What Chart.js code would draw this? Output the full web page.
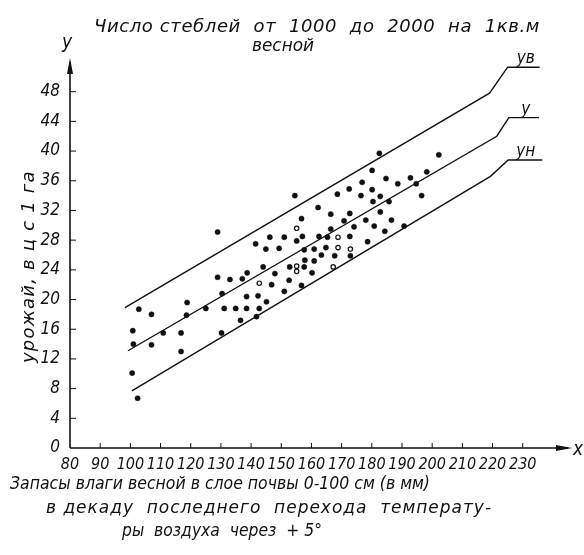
<!DOCTYPE html>
<html>
<head>
<meta charset="utf-8">
<script src="https://cdn.jsdelivr.net/npm/chart.js@4/dist/chart.umd.min.js"></script>
<style>
  body { margin: 0; background: #fff; }
  #wrap { width: 584px; height: 555px; position: relative; }
</style>
</head>
<body>
<div id="wrap"><canvas id="chart"></canvas></div>
<script>
// moisture reserve (mm) vs yield (c/ha), filled dots
const moistureMm = [100.8, 101.0, 100.6, 102.4, 102.8, 107.0, 107.0, 110.9, 116.8, 116.8,
  118.8, 118.6, 125.0, 128.9, 128.9, 130.4, 130.2, 131.1, 133.0, 134.9,
  136.5, 137.1, 138.5, 138.5, 138.7, 141.5, 141.8, 142.3, 142.7, 144.0,
  144.9, 145.1, 146.2, 146.8, 147.9, 149.3, 151.0, 151.0, 152.6, 152.8,
  154.5, 155.1, 156.7, 156.7, 157.0, 157.6, 157.6, 157.8, 160.2, 160.9,
  160.9, 162.2, 162.5, 163.3, 164.8, 165.3, 166.4, 166.4, 167.7, 168.6,
  170.8, 172.5, 172.7, 172.7, 172.9, 174.1, 176.4, 176.8, 178.0, 178.6,
  180.1, 180.1, 180.4, 180.8, 182.5, 182.8, 182.8, 184.3, 184.7, 185.7,
  186.5, 188.6, 190.7, 192.8, 194.7, 196.5, 198.2, 202.2];
const yieldCq = [15.8, 14.0, 10.1, 6.7, 18.7, 18.0, 13.9, 15.5, 15.5, 13.0,
  19.6, 17.9, 18.8, 29.1, 23.0, 20.8, 15.5, 18.8, 22.7, 18.8,
  17.2, 22.8, 20.4, 18.8, 23.6, 27.5, 17.7, 20.5, 18.8, 24.4,
  26.8, 19.7, 28.4, 22.0, 23.5, 26.9, 28.4, 21.1, 22.6, 24.4,
  34.0, 27.9, 30.9, 21.9, 28.5, 26.7, 24.4, 25.3, 23.6, 26.8,
  25.2, 32.4, 28.5, 26.0, 27.0, 28.4, 31.5, 29.5, 25.9, 34.2,
  30.6, 34.9, 31.6, 28.5, 25.9, 29.8, 34.0, 35.8, 30.7, 27.8,
  37.4, 34.8, 33.2, 29.9, 39.7, 33.9, 31.8, 29.2, 36.3, 33.2,
  30.7, 35.6, 29.9, 36.4, 35.6, 34.0, 37.2, 39.5];

// small open circles
const moistureOpenMm = [142.7, 155.1, 155.1, 155.1, 167.2, 168.8, 168.8, 172.9];
const yieldOpenCq = [22.2, 29.6, 24.5, 23.8, 24.4, 28.4, 27.0, 26.8];

// regression line y and its bounds, each with its label leader
const upperX = [98.2, 219.0, 225.0, 235.6];
const upperY = [18.9, 47.8, 51.3, 51.3];
const meanX = [99.2, 221.4, 225.4, 235.4];
const meanY = [13.1, 42.0, 44.5, 44.5];
const lowerX = [100.5, 219.3, 225.2, 236.5];
const lowerY = [7.7, 36.6, 38.8, 38.8];

const xTicks = [80, 90, 100, 110, 120, 130, 140, 150, 160, 170, 180, 190, 200, 210, 220, 230];
const yTicks = [0, 4, 8, 12, 16, 20, 24, 28, 32, 36, 40, 44, 48];

const FONT = '"Liberation Sans Narrow", "DejaVu Sans Condensed", sans-serif';
const TEXT_FONT = '"DejaVu Sans", sans-serif';

const toPts = (xs, ys) => xs.map((x, i) => ({x: x, y: ys[i]}));

const lineSet = (xs, ys) => ({
  data: toPts(xs, ys),
  showLine: true,
  borderColor: '#111',
  borderWidth: 1.4,
  pointRadius: 0,
  fill: false
});

// bring a text close to a given width: squeeze it, or open it up a little
function fitText(ctx, text, x, y, w) {
  ctx.save();
  ctx.textAlign = 'left';
  const m = ctx.measureText(text).width;
  if (w > m && 'letterSpacing' in ctx) {
    ctx.letterSpacing = Math.min(1.2, (w - m) / text.length) + 'px';
    ctx.fillText(text, x, y);
  } else {
    ctx.translate(x, y);
    ctx.scale(w / m, 1);
    ctx.fillText(text, 0, 0);
  }
  ctx.restore();
}

/* axes with arrows, inward tick marks and the lettering */
const sketchAxes = {
  id: 'sketchAxes',
  afterDraw(chart) {
    const {ctx, chartArea, scales} = chart;
    const x = scales.x, y = scales.y;
    const x0 = chartArea.left, y0 = chartArea.bottom;
    ctx.save();
    ctx.strokeStyle = '#111';
    ctx.fillStyle = '#111';
    ctx.lineWidth = 1.6;

    ctx.beginPath();
    ctx.moveTo(x0, y0);
    ctx.lineTo(x0, chartArea.top);
    ctx.moveTo(x0, y0);
    ctx.lineTo(chartArea.right, y0);
    ctx.stroke();

    // arrow heads
    ctx.beginPath();
    ctx.moveTo(x0, chartArea.top - 4);
    ctx.lineTo(x0 - 3, chartArea.top + 12);
    ctx.lineTo(x0 + 3, chartArea.top + 12);
    ctx.closePath();
    ctx.fill();
    ctx.beginPath();
    ctx.moveTo(chartArea.right + 4, y0);
    ctx.lineTo(chartArea.right - 12, y0 - 3);
    ctx.lineTo(chartArea.right - 12, y0 + 3);
    ctx.closePath();
    ctx.fill();

    ctx.lineWidth = 1;
    ctx.beginPath();
    xTicks.forEach(v => {
      if (v === 80) return;
      const px = x.getPixelForValue(v);
      ctx.moveTo(px, y0);
      ctx.lineTo(px, y0 - 5);
    });
    yTicks.forEach(v => {
      if (v === 0) return;
      const py = y.getPixelForValue(v);
      ctx.moveTo(x0, py);
      ctx.lineTo(x0 + 6, py);
    });
    ctx.stroke();

    ctx.font = 'italic 18px ' + TEXT_FONT;
    ctx.textBaseline = 'alphabetic';
    fitText(ctx, 'Число стеблей  от  1000  до  2000  на  1кв.м', 94, 32, 446);
    fitText(ctx, 'весной', 252, 51, 62);

    ctx.textAlign = 'center';
    ctx.font = 'italic 19px ' + FONT;
    ctx.fillText('y', x0 - 3, 48);
    ctx.fillText('x', chartArea.right + 10, y0 + 7);

    // line labels above the leaders
    ctx.font = 'italic 17px ' + FONT;
    ctx.fillText('yв', x.getPixelForValue(231), y.getPixelForValue(51.3) - 4);
    ctx.fillText('y', x.getPixelForValue(231), y.getPixelForValue(44.5) - 4);
    ctx.fillText('yн', x.getPixelForValue(231), y.getPixelForValue(38.8) - 4);

    // axis captions
    ctx.font = 'italic 17px ' + TEXT_FONT;
    fitText(ctx, 'Запасы влаги весной в слое почвы 0-100 см (в мм)', 10, 489, 420);
    fitText(ctx, 'в декаду  последнего  перехода  температу-', 46, 513, 446);
    fitText(ctx, 'ры  воздуха  через  + 5°', 122, 536, 200);

    ctx.translate(28, 258);
    ctx.rotate(-Math.PI / 2);
    ctx.font = 'italic 18px ' + TEXT_FONT;
    fitText(ctx, 'урожай, в ц с 1 га', -105, 6, 210);
    ctx.restore();
  }
};

new Chart(document.getElementById('chart'), {
  type: 'scatter',
  data: {
    datasets: [
      {
        data: toPts(moistureMm, yieldCq),
        pointRadius: 2.6,
        pointBackgroundColor: '#111',
        pointBorderColor: '#111',
        pointBorderWidth: 0.5
      },
      {
        data: toPts(moistureOpenMm, yieldOpenCq),
        pointRadius: 2.2,
        pointBackgroundColor: '#fff',
        pointBorderColor: '#111',
        pointBorderWidth: 1.2
      },
      lineSet(upperX, upperY),
      lineSet(meanX, meanY),
      lineSet(lowerX, lowerY)
    ]
  },
  options: {
    responsive: true,
    maintainAspectRatio: false,
    animation: false,
    layout: { padding: { top: 62, right: 16, left: 0, bottom: 0 } },
    plugins: { legend: { display: false }, tooltip: { enabled: false } },
    scales: {
      x: {
        type: 'linear',
        min: 80,
        max: 245,
        afterBuildTicks(scale) { scale.ticks = xTicks.map(v => ({value: v})); },
        afterFit(scale) { scale.height = 107; },
        grid: { display: false, drawTicks: false },
        border: { display: false },
        ticks: {
          padding: 7,
          color: '#111',
          autoSkip: false,
          maxRotation: 0,
          font: { family: FONT, size: 16, style: 'italic' }
        }
      },
      y: {
        type: 'linear',
        min: 0,
        max: 52,
        afterBuildTicks(scale) { scale.ticks = yTicks.map(v => ({value: v})); },
        afterFit(scale) { scale.width = 70; },
        grid: { display: false, drawTicks: false },
        border: { display: false },
        ticks: {
          padding: 10,
          color: '#111',
          autoSkip: false,
          font: { family: FONT, size: 17, style: 'italic' }
        }
      }
    }
  },
  plugins: [sketchAxes]
});
</script>
</body>
</html>
